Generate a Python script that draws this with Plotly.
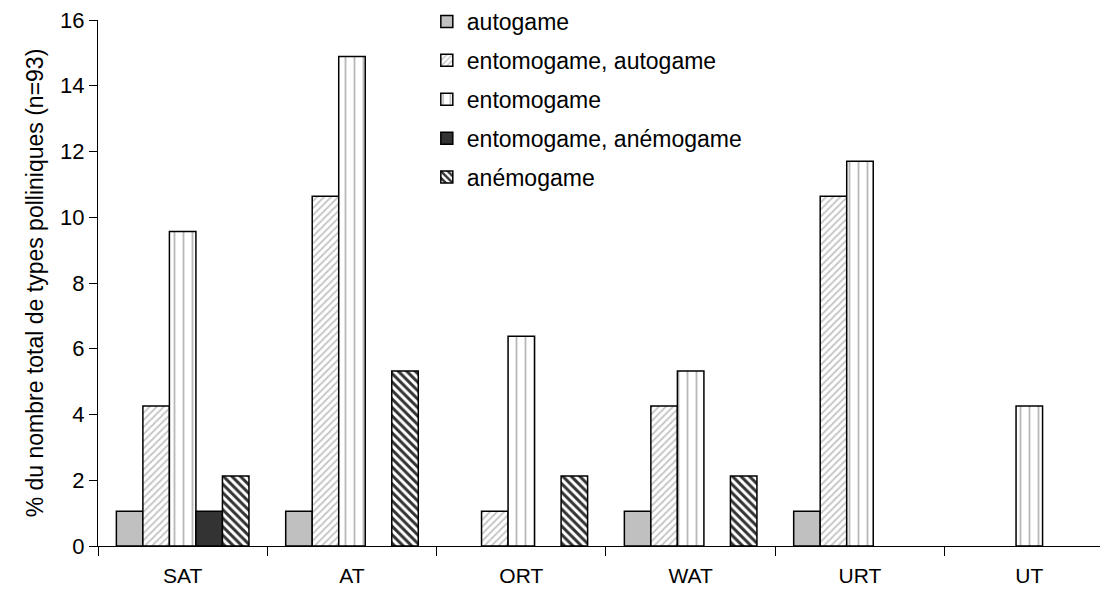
import plotly.graph_objects as go

categories = ["SAT", "AT", "ORT", "WAT", "URT", "UT"]
autogame = [1.06, 1.06, None, 1.06, 1.06, None]
ento_auto = [4.26, 10.64, 1.06, 4.26, 10.64, None]
entomogame = [9.57, 14.89, 6.38, 5.32, 11.70, 4.26]
ento_anemo = [1.06, None, None, None, None, None]
anemogame = [2.13, 5.32, 2.13, 2.13, None, None]
y_ticks = [0, 2, 4, 6, 8, 10, 12, 14, 16]

FONT = "Arial, Liberation Sans, sans-serif"
series = [
    ("autogame", autogame, dict(bgcolor="#c0c0c0", shape="")),
    ("entomogame, autogame", ento_auto,
     dict(shape="/", fgcolor="#c4c4c4", bgcolor="white", size=5, solidity=0.35)),
    ("entomogame", entomogame,
     dict(shape="|", fgcolor="#b8b8b8", bgcolor="white", size=9, solidity=0.2)),
    ("entomogame, anémogame", ento_anemo, dict(bgcolor="#333333", shape="")),
    ("anémogame", anemogame,
     dict(shape="\\", fgcolor="#333333", bgcolor="white", size=6, solidity=0.5)),
]

fig = go.Figure()
for i, (name, vals, pat) in enumerate(series):
    marker = dict(line=dict(color="black", width=1.5))
    if pat.get("shape"):
        marker["color"] = "white"
        marker["pattern"] = dict(shape=pat["shape"], fgcolor=pat["fgcolor"],
                                 bgcolor=pat["bgcolor"], size=pat["size"],
                                 solidity=pat["solidity"], fillmode="replace")
    else:
        marker["color"] = pat["bgcolor"]
    fig.add_trace(go.Bar(x=categories, y=vals, name=name, marker=marker,
                         legendgroup=name))

fig.update_layout(
    width=1108, height=595,
    margin=dict(l=90, r=0, t=12, b=57, autoexpand=False),
    paper_bgcolor="white", plot_bgcolor="white",
    barmode="group", bargap=0.217, bargroupgap=0,
    font=dict(family=FONT, size=22, color="black"),
    legend=dict(x=0.323, xanchor="left", y=1.038, yanchor="top",
                font=dict(size=23, family=FONT), tracegroupgap=6,
                bgcolor="rgba(0,0,0,0)", itemwidth=30),
    showlegend=True,
)
fig.update_xaxes(
    range=[-0.5, 5.512], showline=True, linecolor="black", linewidth=1,
    ticks="outside", ticklen=9, tickcolor="black", tickson="boundaries",
    tickfont=dict(size=21, family=FONT), showgrid=False,
    ticklabelstandoff=11, automargin=False, ticklabeloverflow="allow",
)
fig.update_yaxes(
    range=[0, 16], tickvals=y_ticks, showline=True, linecolor="black",
    linewidth=1, ticks="outside", ticklen=8, tickcolor="black",
    tickfont=dict(size=22, family=FONT), showgrid=False, zeroline=False,
    automargin=False, ticklabeloverflow="allow",
    title=dict(text="% du nombre total de types polliniques (n=93)",
               font=dict(size=23, family=FONT), standoff=10),
)
fig.write_html("out.html")
